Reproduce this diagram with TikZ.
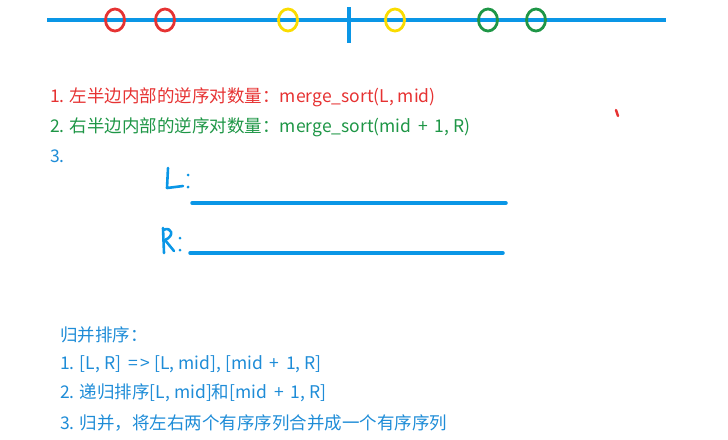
\documentclass[tikz,border=0pt]{standalone}
\usepackage{fontspec}
\setmainfont{Noto Sans CJK SC}
\definecolor{nbblue}{RGB}{10,150,230}
\definecolor{nbred}{RGB}{230,50,50}
\definecolor{nbgreen}{RGB}{30,150,70}
\definecolor{nbyellow}{RGB}{250,220,0}
\definecolor{txtblue}{RGB}{30,140,215}
\usetikzlibrary{positioning,shapes.geometric}

\begin{document}
\begin{tikzpicture}[x=1pt, y=-1pt,
    mark ring/.style={ellipse, draw=#1, line width=2.8pt, minimum width=19pt, minimum height=22pt, inner sep=0pt},
    pen/.style={nbblue, line width=3.5pt, line cap=round, line join=round},
    note/.style={anchor=west, inner sep=0pt, font=\fontsize{17.5}{21}\selectfont}
  ]
    \useasboundingbox (0,0) rectangle (728,439);
    % Number line with the split point
    \coordinate (lineL) at (47,20);
    \coordinate (lineR) at (666,20);
    \draw[pen, line cap=butt] (lineL) -- (lineR);
    \coordinate (midT) at (349,7);
    \coordinate (midB) at (349,43);
    \draw[pen, line cap=butt] (midT) -- (midB);
    % Marked elements
    \node[mark ring=nbred] (r1) at (115,20) {};
    \node[mark ring=nbred] (r2) at (165,20) {};
    \node[mark ring=nbyellow] (y1) at (288,20) {};
    \node[mark ring=nbyellow] (y2) at (395,20) {};
    \node[mark ring=nbgreen] (g1) at (488,20) {};
    \node[mark ring=nbgreen] (g2) at (536,20) {};
    % Three parts of the count
    \node[note, text=nbred] (c1) at (50,97) {1. 左半边内部的逆序对数量：merge\_sort(L, mid)};
    \node[note, text=nbgreen] (c2) at (50,127) {2. 右半边内部的逆序对数量：merge\_sort(mid \,+\, 1, R)};
    \node[note, text=txtblue] (c3) at (50,156) {3.};
    % Stray pen mark
    \draw[nbred, line width=2.5pt, line cap=round] (616,110) -- (618,116);
    % Handwritten L and R with their lines
    \draw[pen, line width=2.6pt] (168,168) -- (167,188) -- (183,186);
    \fill[nbblue] (188,175) circle (1.5) (188,187) circle (1.5);
    \coordinate (LlineA) at (192,203);
    \coordinate (LlineB) at (506,203);
    \draw[pen] (LlineA) -- (LlineB);
    \draw[pen, line width=2.6pt] (163,228) -- (164,253);
    \draw[pen, line width=2.6pt] (163,230) .. controls (172,226) and (175,236) .. (165,240) .. controls (169,245) .. (174,251);
    \fill[nbblue] (180,238) circle (1.5) (180,250) circle (1.5);
    \coordinate (RlineA) at (190,253);
    \coordinate (RlineB) at (503,253);
    \draw[pen] (RlineA) -- (RlineB);
    % Merge sort steps
    \node[note, text=txtblue] (m0) at (60,335) {归并排序：};
    \node[note, text=txtblue] (m1) at (60,364) {1. [L, R] \,=\,> [L, mid], [mid \,+\, 1, R]};
    \node[note, text=txtblue] (m2) at (60,393) {2. 递归排序[L, mid]和[mid \,+\, 1, R]};
    \node[note, text=txtblue] (m3) at (60,423) {3. 归并，将左右两个有序序列合并成一个有序序列};
  \end{tikzpicture}
\end{document}
